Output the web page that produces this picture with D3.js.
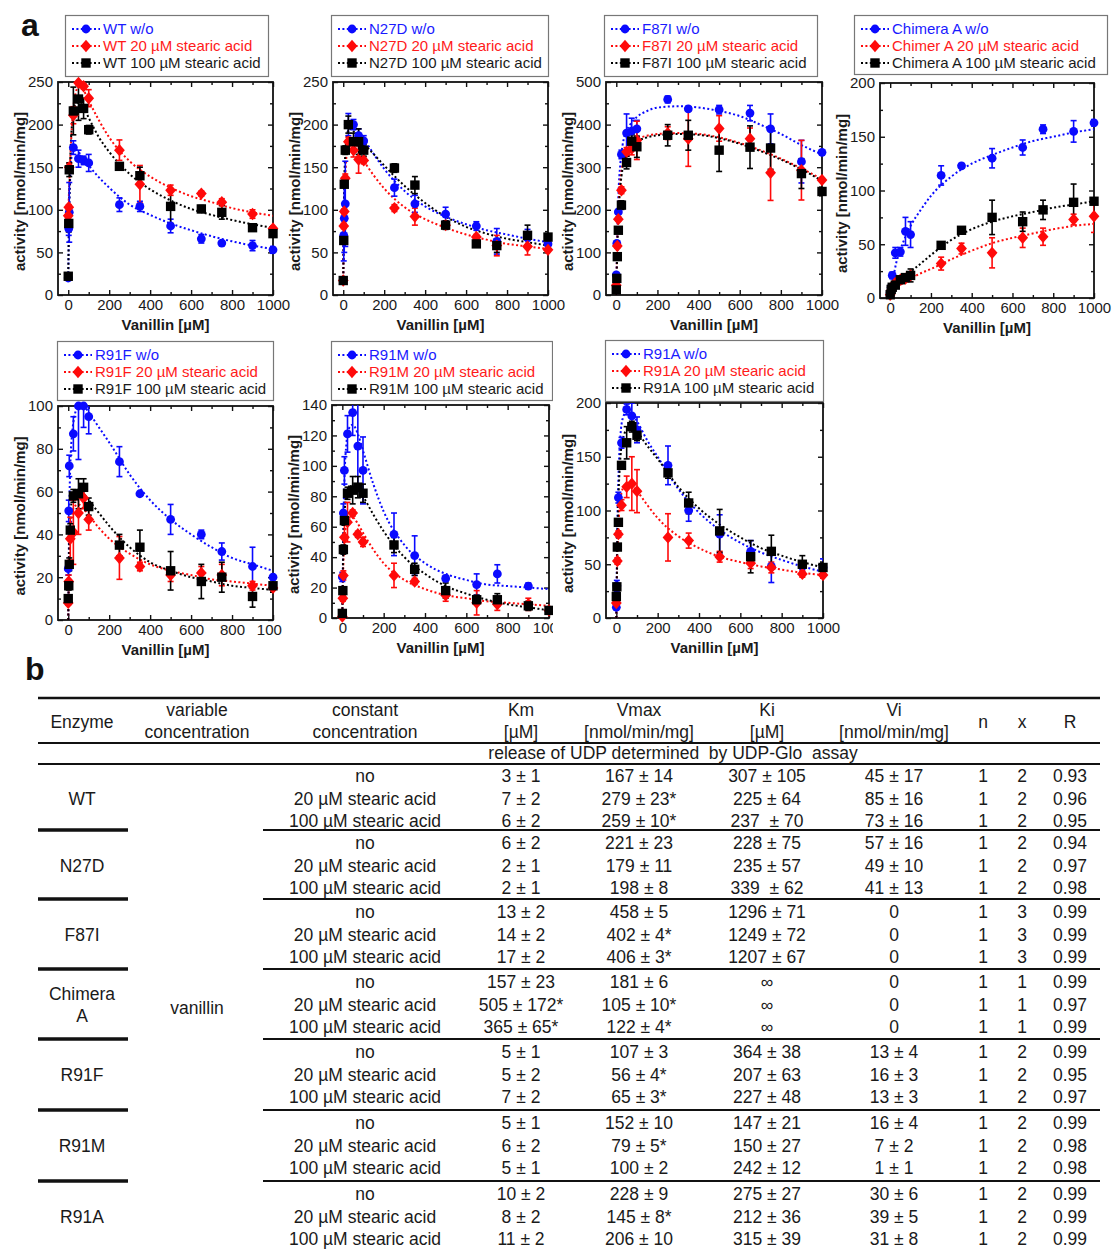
<!DOCTYPE html>
<html><head><meta charset="utf-8">
<script src="https://cdn.jsdelivr.net/npm/d3@7"></script>
<style>
body{margin:0;background:#fff}
svg{display:block}
text{font-family:"Liberation Sans",Arial,Helvetica,sans-serif}
</style>
</head><body>
<svg id="c" width="1113" height="1249"></svg>
<script>
// ---------------- DATA ----------------
const X  = [0, 2.5, 5, 10, 25, 50, 75, 100, 250, 350, 500, 650, 750, 900, 1000];
const FX = [0, 5, 10, 20, 30, 50, 75, 100, 150, 200, 300, 400, 500, 600, 700, 800, 900, 1000];
const xTicks = [0, 200, 400, 600, 800, 1000];

// WT
const WT_wo      = [20, 78, 97, null, 173, 160, 158, 155, 106, 104, 81, 66, 61, 58, 53];
const WT_wo_err  = [2, 8, 35, 0, 8, 10, 5, 10, 8, 6, 8, 5, 2, 6, 4];
const WT_20      = [93, 103, 150, null, 211, 249, 245, 231, 170, 130, 123, 119, 109, 95, 78];
const WT_20_err  = [3, 3, 5, 0, 10, 3, 3, 10, 12, 22, 6, 3, 4, 5, 3];
const WT_100     = [22, 84, 147, null, 216, 230, 219, 194, 151, 140, 104, 101, 97, 79, 72];
const WT_100_err = [3, 10, 8, 0, 28, 25, 12, 5, 4, 10, 20, 4, 8, 3, 4];
const WT_fit_wo  = [15, 100, 140, 168, 172, 168, 160, 152, 138, 126, 106, 94, 84, 76, 69, 63, 58, 54];
const WT_fit_20  = [90, 130, 160, 205, 230, 244, 240, 228, 205, 185, 157, 139, 126, 116, 109, 102, 97, 93];
const WT_fit_100 = [20, 110, 160, 205, 222, 226, 220, 208, 185, 168, 142, 124, 111, 101, 94, 88, 83, 79];

// N27D
const N27D_wo      = [17, 70, 90, 107, 200, 200, 187, 181, 126, 107, 95, 81, 63, 67, 60];
const N27D_wo_err  = [3, 30, 40, 50, 13, 6, 8, 6, 10, 10, 8, 5, 15, 10, 5];
const N27D_20      = [17, 81, 98, 137, 180, 170, 159, 158, 102, 92, 82, 68, 58, 57, 53];
const N27D_20_err  = [2, 3, 3, 5, 5, 8, 16, 4, 4, 10, 4, 3, 12, 10, 3];
const N27D_100     = [17, 64, 130, 170, 200, 180, 180, 170, 149, 129, 82, 60, 58, 70, 68];
const N27D_100_err = [3, 3, 3, 5, 10, 10, 15, 7, 5, 10, 5, 3, 8, 12, 4];
const N27D_fit_wo  = [15, 110, 150, 185, 195, 195, 190, 183, 165, 148, 122, 104, 92, 83, 76, 71, 66, 62];
const N27D_fit_20  = [15, 100, 140, 170, 175, 172, 165, 157, 140, 125, 103, 89, 79, 71, 65, 60, 57, 54];
const N27D_fit_100 = [15, 130, 165, 190, 195, 192, 185, 178, 165, 152, 128, 108, 92, 80, 72, 66, 62, 58];

// F87I
const F87I_wo      = [47, 121, null, 195, 330, 380, 385, 390, 459, 437, 435, 427, 390, 313, 335];
const F87I_wo_err  = [5, 5, 0, 5, 10, 45, 30, 20, 8, 5, 10, 18, 35, 50, 5];
const F87I_20      = [23, null, 115, 178, 246, 336, 344, 363, 380, 367, 391, 367, 287, 293, 270];
const F87I_20_err  = [3, 0, 5, 5, 8, 10, 15, 45, 15, 65, 30, 25, 65, 70, 5];
const F87I_100     = [12, 39, 90, 152, 211, 311, 361, 348, 375, 375, 340, 347, 345, 285, 243];
const F87I_100_err = [3, 5, 5, 5, 10, 15, 15, 25, 25, 35, 50, 50, 50, 35, 10];
const F87I_fit_wo  = [0, 150, 230, 310, 350, 385, 405, 418, 432, 440, 443, 440, 432, 420, 400, 378, 352, 330];
const F87I_fit_20  = [0, 130, 200, 270, 305, 340, 358, 366, 374, 378, 380, 378, 370, 357, 340, 320, 297, 272];
const F87I_fit_100 = [0, 110, 180, 255, 295, 330, 350, 360, 370, 375, 378, 376, 368, 355, 338, 318, 295, 268];

// Chimera A
const CHA_wo      = [5, null, 10, 21, 42, 43, 62, 59, 114, 123, 130, 140, 157, 155, 163];
const CHA_wo_err  = [1, 0, 2, 3, 5, 4, 13, 12, 9, 2, 9, 7, 4, 10, 3];
const CHA_20      = [3, null, 7, 10, 14, 17, 18, 21, 32, 46, 42, 56, 57, 73, 76];
const CHA_20_err  = [1, 0, 1, 2, 2, 2, 3, 3, 6, 5, 14, 9, 8, 5, 15];
const CHA_100     = [3, null, 8, 10, 12, 17, 19, 21, 49, 63, 75, 71, 82, 89, 90];
const CHA_100_err = [1, 0, 3, 3, 2, 3, 3, 6, 2, 3, 16, 9, 9, 17, 2];
const CHA_fit_wo  = [0, 7, 14, 24, 33, 45, 57, 67, 82, 95, 113, 125, 133, 140, 146, 150, 154, 157];
const CHA_fit_20  = [0, 2, 4, 7, 9, 12, 15, 18, 23, 27, 36, 44, 51, 56, 60, 64, 67, 69];
const CHA_fit_100 = [0, 2, 4, 7, 10, 14, 19, 24, 32, 40, 54, 64, 71, 76, 80, 84, 87, 90];

// R91F
const R91F_wo      = [24, 51, 72, null, 87, 100, 100, 95, 74, 59, 47, 40, 32, 25, 20];
const R91F_wo_err  = [3, 5, 5, 0, 8, 25, 10, 8, 7, 1, 7, 2, 4, 9, 1];
const R91F_20      = [8, 18, null, 38, 41, 50, 57, 47, 29, 25, 21, 22, 21, 16, 15];
const R91F_20_err  = [1, 3, 0, 10, 15, 10, 5, 5, 10, 2, 3, 3, 5, 2, 2];
const R91F_100     = [10, 16, 26, 42, 58, 59, 62, 53, 35, 34, 23, 18, 20, 11, 16];
const R91F_100_err = [1, 2, 3, 3, 3, 7, 4, 4, 5, 8, 9, 8, 7, 5, 3];
const R91F_fit_wo  = [0, 50, 72, 88, 95, 100, 100, 97, 90, 83, 68, 56, 47, 40, 34, 29, 26, 23];
const R91F_fit_20  = [0, 28, 40, 50, 53, 54, 52, 49, 43, 38, 31, 26, 23, 21, 19, 18, 17, 16];
const R91F_fit_100 = [0, 35, 48, 57, 60, 61, 59, 56, 50, 44, 34, 27, 23, 20, 18, 16, 15, 14];

// R91M
const R91M_wo      = [27, null, 69, 97, 121, 135, 113, 97, 55, 41, 26, 22, 29, 21, null];
const R91M_wo_err  = [3, 0, 6, 9, 12, 15, 30, 22, 14, 13, 2, 7, 6, 2, 0];
const R91M_20      = [1, 13, 28, 53, 63, 69, 55, 50, 28, 24, 15, 10, 9, 9, 5];
const R91M_20_err  = [1, 2, 3, 10, 13, 2, 2, 3, 8, 2, 4, 8, 4, 4, 2];
const R91M_100     = [3, 18, 45, 64, 82, 84, 86, 82, 48, 32, 18, 12, 12, 8, 5];
const R91M_100_err = [1, 2, 3, 3, 4, 9, 7, 6, 5, 4, 5, 3, 4, 3, 2];
const R91M_fit_wo  = [0, 60, 90, 115, 124, 127, 121, 110, 88, 70, 48, 36, 29, 25, 22, 21, 20, 19];
const R91M_fit_20  = [0, 35, 50, 62, 66, 66, 62, 56, 45, 36, 25, 19, 15, 13, 11, 10, 9, 8];
const R91M_fit_100 = [0, 50, 68, 80, 85, 87, 85, 80, 68, 57, 40, 29, 21, 16, 12, 9, 7, 5];

// R91A
const R91A_wo      = [10, 30, null, 112, 163, 194, 188, 175, 142, 100, 78, 62, 48, 48, 47];
const R91A_wo_err  = [2, 5, 0, 5, 5, 5, 12, 12, 18, 10, 18, 10, 15, 5, 8];
const R91A_20      = [14, null, 53, 78, 105, 122, 125, 118, 75, 72, 57, 51, 47, 41, 40];
const R91A_20_err  = [2, 0, 3, 3, 5, 10, 25, 20, 22, 7, 5, 5, 5, 3, 3];
const R91A_100     = [20, 29, 66, 89, 142, 163, 178, 170, 135, 107, 81, 57, 62, 50, 47];
const R91A_100_err = [2, 2, 3, 3, 3, 15, 5, 5, 5, 10, 20, 15, 15, 8, 5];
const R91A_fit_wo  = [0, 90, 130, 170, 185, 192, 190, 183, 165, 150, 120, 98, 82, 70, 61, 54, 48, 43];
const R91A_fit_20  = [0, 60, 85, 110, 120, 125, 123, 118, 105, 93, 76, 65, 57, 52, 48, 45, 42, 40];
const R91A_fit_100 = [0, 70, 110, 150, 165, 175, 177, 173, 160, 148, 122, 102, 87, 75, 65, 58, 52, 47];

// legends
const LEG_WT   = ["WT w/o", "WT 20 µM stearic acid", "WT 100 µM stearic acid"];
const LEG_N27D = ["N27D w/o", "N27D 20 µM stearic acid", "N27D 100 µM stearic acid"];
const LEG_F87I = ["F87I w/o", "F87I 20 µM stearic acid", "F87I 100 µM stearic acid"];
const LEG_CHA  = ["Chimera A w/o", "Chimer A 20 µM stearic acid", "Chimera A 100 µM stearic acid"];
const LEG_R91F = ["R91F w/o", "R91F 20 µM stearic acid", "R91F 100 µM stearic acid"];
const LEG_R91M = ["R91M w/o", "R91M 20 µM stearic acid", "R91M 100 µM stearic acid"];
const LEG_R91A = ["R91A w/o", "R91A 20 µM stearic acid", "R91A 100 µM stearic acid"];

// table
const T_header = [["Enzyme"], ["variable","concentration"], ["constant","concentration"], ["Km","[µM]"],
  ["Vmax","[nmol/min/mg]"], ["Ki","[µM]"], ["Vi","[nmol/min/mg]"], ["n"], ["x"], ["R"]];
const T_subtitle = "release of UDP determined  by UDP-Glo  assay";
const T_enzymes = [["WT"], ["N27D"], ["F87I"], ["Chimera","A"], ["R91F"], ["R91M"], ["R91A"]];
const T_variable = "vanillin";
const T_constant = ["no", "20 µM stearic acid", "100 µM stearic acid"];
const T_Km = [["3 ± 1","7 ± 2","6 ± 2"], ["6 ± 2","2 ± 1","2 ± 1"], ["13 ± 2","14 ± 2","17 ± 2"],
  ["157 ± 23","505 ± 172*","365 ± 65*"], ["5 ± 1","5 ± 2","7 ± 2"], ["5 ± 1","6 ± 2","5 ± 1"], ["10 ± 2","8 ± 2","11 ± 2"]];
const T_Vmax = [["167 ± 14","279 ± 23*","259 ± 10*"], ["221 ± 23","179 ± 11","198 ± 8"], ["458 ± 5","402 ± 4*","406 ± 3*"],
  ["181 ± 6","105 ± 10*","122 ± 4*"], ["107 ± 3","56 ± 4*","65 ± 3*"], ["152 ± 10","79 ± 5*","100 ± 2"], ["228 ± 9","145 ± 8*","206 ± 10"]];
const T_Ki = [["307 ± 105","225 ± 64","237  ± 70"], ["228 ± 75","235 ± 57","339  ± 62"], ["1296 ± 71","1249 ± 72","1207 ± 67"],
  ["∞","∞","∞"], ["364 ± 38","207 ± 63","227 ± 48"], ["147 ± 21","150 ± 27","242 ± 12"], ["275 ± 27","212 ± 36","315 ± 39"]];
const T_Vi = [["45 ± 17","85 ± 16","73 ± 16"], ["57 ± 16","49 ± 10","41 ± 13"], ["0","0","0"], ["0","0","0"],
  ["13 ± 4","16 ± 3","13 ± 3"], ["16 ± 4","7 ± 2","1 ± 1"], ["30 ± 6","39 ± 5","31 ± 8"]];
const T_n = [["1","1","1"],["1","1","1"],["1","1","1"],["1","1","1"],["1","1","1"],["1","1","1"],["1","1","1"]];
const T_x = [["2","2","2"],["2","2","2"],["3","3","3"],["1","1","1"],["2","2","2"],["2","2","2"],["2","2","2"]];
const T_R = [["0.93","0.96","0.95"], ["0.94","0.97","0.98"], ["0.99","0.99","0.99"], ["0.99","0.97","0.99"],
  ["0.99","0.95","0.97"], ["0.99","0.98","0.98"], ["0.99","0.99","0.99"]];

// ---------------- LAYOUT ----------------
const COLORS = ["#0a0aff", "#ff0a0a", "#000000"];
const TEXTCOL = ["#1a1aff", "#ff1a1a", "#1a1a1a"];
const SHAPES = ["circle", "diamond", "square"];

const panels = [
  {id:"WT",   s:[[WT_wo,WT_wo_err],[WT_20,WT_20_err],[WT_100,WT_100_err]], f:[WT_fit_wo,WT_fit_20,WT_fit_100], leg:LEG_WT,
   box:[58,82,273,295], lb:[65,15,268,76], ymax:250, ystep:50},
  {id:"N27D", s:[[N27D_wo,N27D_wo_err],[N27D_20,N27D_20_err],[N27D_100,N27D_100_err]], f:[N27D_fit_wo,N27D_fit_20,N27D_fit_100], leg:LEG_N27D,
   box:[333,82,548,295], lb:[331,15,548,76], ymax:250, ystep:50},
  {id:"F87I", s:[[F87I_wo,F87I_wo_err],[F87I_20,F87I_20_err],[F87I_100,F87I_100_err]], f:[F87I_fit_wo,F87I_fit_20,F87I_fit_100], leg:LEG_F87I,
   box:[606,82,822,295], lb:[604,15,817,76], ymax:500, ystep:100},
  {id:"CHA",  s:[[CHA_wo,CHA_wo_err],[CHA_20,CHA_20_err],[CHA_100,CHA_100_err]], f:[CHA_fit_wo,CHA_fit_20,CHA_fit_100], leg:LEG_CHA,
   box:[880,83,1094,298], lb:[854,15,1107,74], ymax:200, ystep:50},
  {id:"R91F", s:[[R91F_wo,R91F_wo_err],[R91F_20,R91F_20_err],[R91F_100,R91F_100_err]], f:[R91F_fit_wo,R91F_fit_20,R91F_fit_100], leg:LEG_R91F,
   box:[58,406,273,620], lb:[57,341,273,400], ymax:100, ystep:20, clip:[0,282]},
  {id:"R91M", s:[[R91M_wo,R91M_wo_err],[R91M_20,R91M_20_err],[R91M_100,R91M_100_err]], f:[R91M_fit_wo,R91M_fit_20,R91M_fit_100], leg:LEG_R91M,
   box:[332,405,549,618], lb:[331,341,552,400], ymax:140, ystep:20, clip:[280,553]},
  {id:"R91A", s:[[R91A_wo,R91A_wo_err],[R91A_20,R91A_20_err],[R91A_100,R91A_100_err]], f:[R91A_fit_wo,R91A_fit_20,R91A_fit_100], leg:LEG_R91A,
   box:[606,403,823,618], lb:[605,340,823,401], ymax:200, ystep:50},
];

const svg = d3.select("#c");
const defs = svg.append("defs");

function drawMarker(sel, shape, color) {
  if (shape === "circle") sel.append("circle").attr("r", 4.4).attr("fill", color);
  else if (shape === "diamond") sel.append("path").attr("d", "M0,-6.2L5.4,0L0,6.2L-5.4,0Z").attr("fill", color);
  else sel.append("rect").attr("x", -4.7).attr("y", -4.7).attr("width", 9.4).attr("height", 9.4).attr("fill", color);
}

const fmt = d3.format("d");

panels.forEach((p, pi) => {
  const [x0, y0, x1, y1] = p.box;
  const xs = d3.scaleLinear().domain([-50, 1000]).range([x0, x1]);
  const ys = d3.scaleLinear().domain([0, p.ymax]).range([y1, y0]);
  const g = svg.append("g");
  if (p.clip) {
    defs.append("clipPath").attr("id", "pc" + pi).append("rect")
      .attr("x", p.clip[0]).attr("y", 0).attr("width", p.clip[1] - p.clip[0]).attr("height", 1249);
    g.attr("clip-path", `url(#pc${pi})`);
  }
  defs.append("clipPath").attr("id", "bx" + pi).append("rect")
    .attr("x", x0).attr("y", y0).attr("width", x1 - x0).attr("height", y1 - y0);

  // legend
  const [lx0, ly0, lx1, ly1] = p.lb;
  g.append("rect").attr("x", lx0 + 0.5).attr("y", ly0 + 0.5).attr("width", lx1 - lx0).attr("height", ly1 - ly0)
    .attr("fill", "#fff").attr("stroke", "#777").attr("stroke-width", 1.2);
  p.leg.forEach((t, i) => {
    const ry = ly0 + 14 + i * 17;
    g.append("line").attr("x1", lx0 + 7).attr("x2", lx0 + 35).attr("y1", ry).attr("y2", ry)
      .attr("stroke", COLORS[i]).attr("stroke-width", 2).attr("stroke-dasharray", "2,2.4");
    drawMarker(g.append("g").attr("transform", `translate(${lx0 + 21},${ry})`), SHAPES[i], COLORS[i]);
    g.append("text").attr("x", lx0 + 38).attr("y", ry + 5.3).attr("font-size", 15).attr("fill", TEXTCOL[i]).text(t);
  });

  // axes (ticks inward on all sides)
  const yTicks = d3.range(0, p.ymax + 0.001, p.ystep);
  const yMinor = d3.range(0, p.ymax + 0.001, p.ystep / 2).filter(v => !yTicks.includes(v));
  const xMinor = d3.range(0, 1000.001, 100).filter(v => !xTicks.includes(v));
  const ax = [
    g.append("g").attr("transform", `translate(0,${y1})`).call(d3.axisBottom(xs).tickValues(xTicks).tickSize(-5).tickPadding(4).tickFormat(fmt)),
    g.append("g").attr("transform", `translate(0,${y1})`).call(d3.axisBottom(xs).tickValues(xMinor).tickSize(-3).tickFormat("")),
    g.append("g").attr("transform", `translate(0,${y0})`).call(d3.axisTop(xs).tickValues(xTicks).tickSize(-5).tickFormat("")),
    g.append("g").attr("transform", `translate(0,${y0})`).call(d3.axisTop(xs).tickValues(xMinor).tickSize(-3).tickFormat("")),
    g.append("g").attr("transform", `translate(${x0},0)`).call(d3.axisLeft(ys).tickValues(yTicks).tickSize(-5).tickPadding(5).tickFormat(fmt)),
    g.append("g").attr("transform", `translate(${x0},0)`).call(d3.axisLeft(ys).tickValues(yMinor).tickSize(-3).tickFormat("")),
    g.append("g").attr("transform", `translate(${x1},0)`).call(d3.axisRight(ys).tickValues(yTicks).tickSize(-5).tickFormat("")),
    g.append("g").attr("transform", `translate(${x1},0)`).call(d3.axisRight(ys).tickValues(yMinor).tickSize(-3).tickFormat("")),
  ];
  ax.forEach(a => {
    a.select(".domain").remove();
    a.selectAll("line").attr("stroke", "#111").attr("stroke-width", 1.4);
    a.selectAll("text").attr("font-size", 15).attr("fill", "#1a1a1a")
      .style("font-family", '"Liberation Sans",Arial,sans-serif');
  });

  // frame
  g.append("rect").attr("x", x0).attr("y", y0).attr("width", x1 - x0).attr("height", y1 - y0)
    .attr("fill", "none").attr("stroke", "#111").attr("stroke-width", 1.8);

  // axis titles
  g.append("text").attr("x", (x0 + x1) / 2).attr("y", y1 + 35).attr("text-anchor", "middle")
    .attr("font-size", 15).attr("font-weight", "bold").attr("fill", "#1a1a1a").text("Vanillin [µM]");
  g.append("text").attr("transform", `translate(${x0 - 33},${(y0 + y1) / 2 + 3}) rotate(-90)`).attr("text-anchor", "middle")
    .attr("font-size", 15).attr("font-weight", "bold").attr("fill", "#1a1a1a").text("activity [nmol/min/mg]");

  // fit curves
  const inner = g.append("g").attr("clip-path", `url(#bx${pi})`);
  const line = d3.line().x((d, i) => xs(FX[i])).y(d => ys(d)).curve(d3.curveMonotoneX);
  p.f.forEach((fit, si) => {
    inner.append("path").attr("d", line(fit)).attr("fill", "none").attr("stroke", COLORS[si])
      .attr("stroke-width", 2).attr("stroke-dasharray", "2,2.4");
  });

  // series: error bars + markers
  p.s.forEach(([vals, errs], si) => {
    const col = COLORS[si];
    vals.forEach((v, i) => {
      if (v === null) return;
      const e = errs[i];
      const cx = xs(X[i]);
      if (e > 0) {
        const ya = ys(v + e), yb = ys(v - e);
        inner.append("line").attr("x1", cx).attr("x2", cx).attr("y1", ya).attr("y2", yb)
          .attr("stroke", col).attr("stroke-width", 1.6);
        [ya, yb].forEach(yy => inner.append("line").attr("x1", cx - 3).attr("x2", cx + 3).attr("y1", yy).attr("y2", yy)
          .attr("stroke", col).attr("stroke-width", 1.6));
      }
    });
    vals.forEach((v, i) => {
      if (v === null) return;
      drawMarker(g.append("g").attr("transform", `translate(${xs(X[i])},${ys(v)})`), SHAPES[si], col);
    });
  });
});

// panel letters
svg.append("text").attr("x", 21).attr("y", 36).attr("font-size", 32).attr("font-weight", "bold").attr("fill", "#111").text("a");
svg.append("text").attr("x", 25).attr("y", 680).attr("font-size", 32).attr("font-weight", "bold").attr("fill", "#111").text("b");

// ---------------- TABLE ----------------
const tg = svg.append("g").attr("fill", "#1a1a1a").attr("font-size", 17.5);
const colX = [82, 197, 365, 521, 639, 767, 894, 983, 1022, 1070];
function ttext(x, yc, s) {
  tg.append("text").attr("x", x).attr("y", yc + 6).attr("text-anchor", "middle").style("white-space", "pre").text(s);
}
function hline(xa, xb, y, w) {
  tg.append("line").attr("x1", xa).attr("x2", xb).attr("y1", y).attr("y2", y).attr("stroke", "#111").attr("stroke-width", w);
}
hline(38, 1100, 698, 2.6);
T_header.forEach((h, i) => {
  if (h.length === 1) ttext(colX[i], 722, h[0]);
  else { ttext(colX[i], 710, h[0]); ttext(colX[i], 732, h[1]); }
});
hline(38, 1100, 743, 2.2);
ttext(673, 753, T_subtitle);
hline(38, 1100, 764, 2.2);

const groupY = [776, 843, 912, 982, 1052, 1123, 1194];
const rowStep = 22.5;
const cols = [T_Km, T_Vmax, T_Ki, T_Vi, T_n, T_x, T_R];
groupY.forEach((gy, gi) => {
  const mid = gy + rowStep;
  const en = T_enzymes[gi];
  if (en.length === 1) ttext(colX[0], mid, en[0]);
  else { ttext(colX[0], mid - 11, en[0]); ttext(colX[0], mid + 11, en[1]); }
  T_constant.forEach((c, r) => {
    const yy = gy + r * rowStep;
    ttext(colX[2], yy, c);
    cols.forEach((arr, ci) => ttext(colX[3 + ci], yy, arr[gi][r]));
  });
  if (gi < groupY.length - 1) {
    const sy = groupY[gi + 1] - 13;
    hline(38, 128, sy, 3.4);
    hline(263, 1100, sy, 2.2);
  }
});
ttext(colX[1], 1008, T_variable);
</script>
</body></html>
